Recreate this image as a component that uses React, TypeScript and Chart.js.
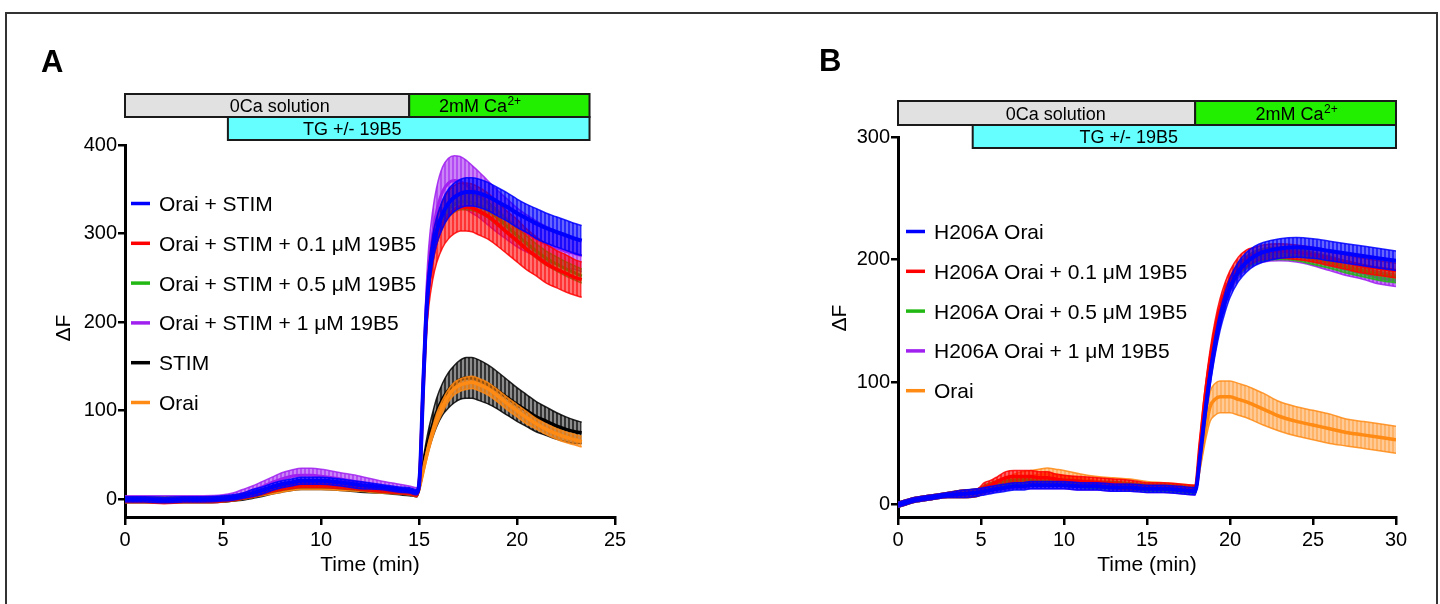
import React, { useEffect, useRef } from 'react';
import { Chart, registerables } from 'chart.js';

Chart.register(...registerables);

const FONT = "'Liberation Sans', Arial, Helvetica, sans-serif";

const BLUE = '#0000ff';
const RED = '#ff0000';
const GREEN = '#22b814';
const PURPLE = '#a020f0';
const BLACK = '#000000';
const ORANGE = '#ff8a14';

// ---------------- Panel A data ----------------
const TIME_A = [0, 1, 2, 3, 4, 5, 5.5, 6, 6.5, 7, 7.5, 8, 8.5, 9, 9.5, 10, 11, 12, 13, 14, 14.5, 14.9,
  15.05, 15.2, 15.35, 15.5, 15.7, 15.9, 16.2, 16.5, 16.8, 17.1, 17.4, 17.7, 18,
  18.5, 19, 19.5, 20, 20.5, 21, 21.5, 22, 22.5, 23, 23.3];
const X_TICKS_A = [0, 5, 10, 15, 20, 25];
const Y_TICKS_A = [0, 100, 200, 300, 400];
const LABELS_A = ['Orai + STIM', 'Orai + STIM + 0.1 μM 19B5', 'Orai + STIM + 0.5 μM 19B5', 'Orai + STIM + 1 μM 19B5', 'STIM', 'Orai'];

const A_ORAI_STIM = [0, 0, -1, 0, 0, 1, 2, 4, 7, 10, 14, 17, 19, 21, 21, 21, 19, 16, 14, 11, 10, 8,
  30, 120, 200, 248, 283, 303, 322, 334, 341, 345, 347, 347, 346,
  342, 336, 330, 323, 317, 311, 306, 302, 298, 294, 292];
const A_ORAI_STIM_SEM = [3, 3, 3, 3, 3, 3, 3, 3, 4, 4, 4, 4, 4, 4, 4, 4, 4, 4, 3, 3, 3, 3,
  6, 10, 12, 14, 15, 15, 16, 16, 16, 16, 16, 16, 16,
  16, 16, 16, 16, 16, 17, 17, 17, 17, 17, 17];

const A_01 = [-1, -1, -2, -1, -1, 0, 1, 3, 5, 8, 11, 13, 15, 16, 16, 16, 15, 13, 11, 9, 8, 6,
  30, 118, 195, 240, 272, 292, 310, 321, 327, 330, 330, 329, 326,
  320, 311, 301, 292, 282, 274, 266, 260, 255, 250, 248];
const A_01_SEM = [3, 3, 3, 3, 3, 3, 3, 3, 3, 3, 3, 3, 3, 3, 3, 3, 3, 3, 3, 3, 3, 3,
  6, 12, 18, 22, 24, 25, 26, 27, 27, 27, 27, 27, 27,
  26, 25, 24, 24, 23, 22, 22, 21, 21, 20, 20];

const A_05 = [-1, -1, -1, -1, -1, 0, 1, 3, 5, 8, 11, 13, 15, 16, 16, 16, 15, 13, 11, 9, 8, 6,
  30, 118, 195, 242, 276, 297, 315, 327, 333, 336, 336, 335, 333,
  327, 318, 308, 298, 289, 280, 272, 266, 260, 255, 252];
const A_05_SEM = [3, 3, 3, 3, 3, 3, 3, 3, 3, 3, 3, 3, 3, 3, 3, 3, 3, 3, 3, 3, 3, 3,
  5, 8, 9, 9, 9, 9, 9, 9, 9, 9, 9, 9, 9,
  9, 9, 8, 8, 8, 8, 8, 8, 8, 8, 8];

const A_1 = [0, 0, 0, 0, 0, 1, 3, 6, 10, 14, 19, 23, 26, 27, 27, 26, 23, 19, 15, 12, 10, 8,
  32, 125, 210, 262, 300, 325, 347, 357, 360, 359, 355, 350, 345,
  335, 325, 316, 307, 300, 294, 288, 284, 280, 277, 275];
const A_1_SEM = [4, 4, 4, 4, 4, 4, 4, 5, 5, 6, 6, 7, 7, 8, 8, 8, 7, 7, 6, 5, 5, 5,
  6, 14, 20, 24, 26, 27, 28, 28, 28, 28, 28, 27, 26,
  25, 24, 23, 22, 21, 20, 20, 19, 19, 18, 18];

const A_STIM = [0, 0, 0, 0, 0, 0, 1, 2, 4, 6, 9, 11, 13, 14, 14, 14, 13, 11, 10, 8, 7, 6,
  18, 36, 53, 68, 84, 98, 113, 123, 130, 135, 137, 137, 135,
  130, 123, 115, 107, 100, 93, 88, 83, 79, 76, 75];
const A_STIM_SEM = [3, 3, 3, 3, 3, 3, 3, 3, 3, 3, 3, 3, 3, 3, 3, 3, 3, 3, 3, 3, 3, 3,
  4, 7, 10, 12, 14, 16, 18, 20, 21, 22, 23, 23, 23,
  22, 21, 20, 19, 18, 17, 16, 15, 14, 13, 12];

const A_ORAI = [0, 0, 0, 0, 0, 0, 1, 2, 4, 6, 8, 10, 12, 13, 13, 13, 12, 11, 9, 8, 7, 6,
  16, 31, 46, 60, 76, 90, 105, 117, 125, 129, 131, 132, 130,
  125, 117, 108, 100, 92, 85, 79, 74, 70, 67, 65];
const A_ORAI_SEM = [2, 2, 2, 2, 2, 2, 2, 2, 2, 2, 2, 2, 2, 2, 2, 2, 2, 2, 2, 2, 2, 2,
  3, 4, 5, 6, 6, 7, 7, 7, 7, 7, 7, 7, 7,
  7, 7, 7, 7, 7, 6, 6, 6, 6, 6, 6];

// ---------------- Panel B data ----------------
const TIME_B = [0, 0.5, 1, 2, 3, 4, 4.8, 5.2, 5.6, 6, 6.5, 7, 7.5, 8, 8.5, 9, 9.5, 10, 11, 12, 13, 14, 15, 16, 17,
  17.9, 18.2, 18.5, 18.8, 19.1, 19.4, 19.7, 20, 20.5, 21, 21.5, 22, 23, 24, 25, 26, 27, 28, 29, 30];
const X_TICKS_B = [0, 5, 10, 15, 20, 25, 30];
const Y_TICKS_B = [0, 100, 200, 300];
const LABELS_B = ['H206A Orai', 'H206A Orai + 0.1 μM 19B5', 'H206A Orai + 0.5 μM 19B5', 'H206A Orai + 1 μM 19B5', 'Orai'];

const B_H206A = [0, 2, 4, 6, 8, 9, 10, 11, 12, 13, 14, 15, 15, 16, 16, 16, 16, 16, 15, 15, 14, 14, 13, 13, 12,
  11, 40, 75, 105, 130, 150, 165, 177, 190, 198, 203, 206, 209, 210, 209, 207, 205, 203, 201, 199];
const B_H206A_SEM = [2, 2, 2, 2, 2, 3, 3, 3, 3, 3, 3, 3, 3, 3, 3, 3, 3, 3, 3, 3, 3, 3, 3, 3, 3,
  3, 5, 7, 8, 8, 8, 8, 8, 8, 8, 8, 8, 8, 8, 8, 8, 8, 8, 8, 8];

const B_01 = [0, 2, 4, 6, 8, 9, 10, 14, 16, 19, 22, 23, 23, 23, 22, 22, 21, 20, 19, 18, 17, 16, 15, 15, 14,
  13, 50, 88, 118, 142, 160, 174, 184, 195, 201, 204, 206, 207, 206, 204, 201, 198, 195, 193, 191];
const B_01_SEM = [2, 2, 2, 2, 2, 3, 3, 4, 4, 4, 5, 5, 5, 5, 5, 5, 4, 4, 4, 4, 4, 4, 3, 3, 3,
  3, 5, 7, 8, 8, 8, 7, 7, 7, 7, 6, 6, 6, 6, 6, 6, 6, 6, 6, 6];

const B_05 = [0, 2, 4, 6, 8, 9, 10, 13, 15, 17, 19, 20, 20, 20, 19, 19, 18, 18, 17, 16, 16, 15, 14, 14, 13,
  12, 45, 82, 112, 137, 156, 170, 180, 192, 198, 202, 204, 205, 204, 201, 198, 194, 191, 188, 186];
const B_05_SEM = [2, 2, 2, 2, 2, 3, 3, 3, 3, 3, 3, 3, 3, 3, 3, 3, 3, 3, 3, 3, 3, 3, 3, 3, 3,
  3, 4, 5, 5, 5, 5, 5, 5, 5, 5, 5, 5, 5, 5, 5, 5, 5, 5, 5, 5];

const B_1 = [0, 2, 4, 6, 8, 9, 10, 12, 13, 14, 15, 16, 16, 16, 16, 16, 16, 16, 15, 15, 14, 14, 13, 13, 12,
  11, 42, 78, 108, 134, 153, 168, 178, 190, 197, 201, 203, 204, 203, 200, 196, 192, 189, 185, 183];
const B_1_SEM = [2, 2, 2, 2, 2, 3, 3, 3, 3, 3, 3, 3, 3, 3, 3, 3, 3, 3, 3, 3, 3, 3, 3, 3, 3,
  3, 4, 5, 5, 5, 5, 5, 5, 5, 5, 5, 5, 5, 5, 5, 5, 5, 5, 5, 5];

const B_ORAI = [0, 2, 4, 6, 8, 9, 10, 12, 14, 16, 18, 20, 22, 23, 24, 25, 24, 23, 21, 19, 18, 17, 16, 15, 14,
  13, 35, 60, 80, 86, 88, 88, 88, 86, 84, 81, 78, 72, 68, 65, 62, 59, 57, 55, 53];
const B_ORAI_SEM = [2, 2, 2, 2, 2, 3, 3, 3, 4, 4, 4, 5, 5, 5, 5, 5, 5, 5, 4, 4, 4, 4, 3, 3, 3,
  3, 6, 9, 12, 13, 13, 13, 13, 13, 13, 13, 13, 12, 12, 12, 12, 11, 11, 11, 11];

// ---------------- Protocol bars ----------------
const PROTOCOL_LABELS = ['0Ca solution', '2mM Ca', 'TG +/- 19B5'];
const PROTOCOL_COLORS = ['#e1e1e1', '#22ee00', '#66ffff'];
const PROTOCOL_A_START = [0, 14.5, 5.25];
const PROTOCOL_A_END = [14.5, 23.7, 23.7];
const PROTOCOL_A_TEXT_AT = [7.9, 18.1, 11.6];
const PROTOCOL_B_START = [0, 17.9, 4.5];
const PROTOCOL_B_END = [17.9, 30, 30];
const PROTOCOL_B_TEXT_AT = [9.5, 24.0, 13.9];

type Series = { label: string; color: string; mean: number[]; sem: number[]; rank: number; width: number; alphas: [number, number] };

function rgba(hex: string, a: number) {
  const h = hex.replace('#', '');
  const r = parseInt(h.slice(0, 2), 16), g = parseInt(h.slice(2, 4), 16), b = parseInt(h.slice(4, 6), 16);
  return `rgba(${r},${g},${b},${a})`;
}

function makePattern(color: string, a1: number, a2: number) {
  const c = document.createElement('canvas');
  c.width = 4; c.height = 4;
  const g = c.getContext('2d')!;
  g.fillStyle = rgba(color, a1); g.fillRect(0, 0, 2, 4);
  g.fillStyle = rgba(color, a2); g.fillRect(2, 0, 2, 4);
  return g.createPattern(c, 'repeat');
}

function buildDatasets(times: number[], series: Series[]) {
  const ds: any[] = [];
  series.forEach((s) => {
    const common = { pointRadius: 0, pointHoverRadius: 0, cubicInterpolationMode: 'monotone', tension: 0.3 };
    ds.push({ ...common, label: s.label + ' +SEM', data: times.map((t, i) => ({ x: t, y: s.mean[i] + s.sem[i] })),
      borderColor: rgba(s.color, 0.85), borderWidth: 1.5, fill: '+1', backgroundColor: makePattern(s.color, s.alphas[0], s.alphas[1]), order: s.rank * 3 + 1 });
    ds.push({ ...common, label: s.label + ' -SEM', data: times.map((t, i) => ({ x: t, y: s.mean[i] - s.sem[i] })),
      borderColor: rgba(s.color, 0.85), borderWidth: 1.5, fill: false, order: s.rank * 3 + 2 });
    ds.push({ ...common, label: s.label, data: times.map((t, i) => ({ x: t, y: s.mean[i] })),
      borderColor: s.color, borderWidth: s.width, fill: false, order: s.rank * 3 });
  });
  return ds;
}

const SERIES_A: Series[] = [
  { label: LABELS_A[0], color: BLUE, mean: A_ORAI_STIM, sem: A_ORAI_STIM_SEM, rank: 0, width: 4, alphas: [0.85, 0.6] },
  { label: LABELS_A[1], color: RED, mean: A_01, sem: A_01_SEM, rank: 1, width: 3.5, alphas: [0.8, 0.55] },
  { label: LABELS_A[2], color: GREEN, mean: A_05, sem: A_05_SEM, rank: 2, width: 3, alphas: [0.8, 0.5] },
  { label: LABELS_A[3], color: PURPLE, mean: A_1, sem: A_1_SEM, rank: 3, width: 3, alphas: [0.8, 0.55] },
  { label: LABELS_A[4], color: BLACK, mean: A_STIM, sem: A_STIM_SEM, rank: 5, width: 3.5, alphas: [0.8, 0.45] },
  { label: LABELS_A[5], color: ORANGE, mean: A_ORAI, sem: A_ORAI_SEM, rank: 4, width: 3.5, alphas: [0.85, 0.6] },
];

const SERIES_B: Series[] = [
  { label: LABELS_B[0], color: BLUE, mean: B_H206A, sem: B_H206A_SEM, rank: 0, width: 4, alphas: [0.85, 0.6] },
  { label: LABELS_B[1], color: RED, mean: B_01, sem: B_01_SEM, rank: 1, width: 3.5, alphas: [0.85, 0.6] },
  { label: LABELS_B[2], color: GREEN, mean: B_05, sem: B_05_SEM, rank: 2, width: 3, alphas: [0.85, 0.6] },
  { label: LABELS_B[3], color: PURPLE, mean: B_1, sem: B_1_SEM, rank: 3, width: 3, alphas: [0.85, 0.6] },
  { label: LABELS_B[4], color: ORANGE, mean: B_ORAI, sem: B_ORAI_SEM, rank: 4, width: 3.5, alphas: [0.65, 0.45] },
];

type PanelSpec = {
  times: number[]; series: Series[]; xMax: number; xTicks: number[]; yMin: number; yMax: number; yTicks: number[];
  pad: { left: number; right: number; top: number };
  protoStart: number[]; protoEnd: number[]; protoText: number[]; rows: number[];
  letter: string; letterPos: [number, number]; yTitlePos: [number, number];
  legend: { x0: number; x1: number; tx: number; y0: number; dy: number };
};

function decorPlugin(spec: PanelSpec) {
  return {
    id: 'decor',
    afterDraw(chart: any) {
      const ctx = chart.ctx as CanvasRenderingContext2D;
      const xs = chart.scales.x;
      ctx.save();
      // protocol bars
      for (let i = 0; i < 3; i++) {
        const x0 = xs.getPixelForValue(spec.protoStart[i]);
        const x1 = xs.getPixelForValue(spec.protoEnd[i]);
        const y0 = i < 2 ? spec.rows[0] : spec.rows[1];
        const y1 = i < 2 ? spec.rows[1] : spec.rows[2];
        ctx.fillStyle = PROTOCOL_COLORS[i];
        ctx.fillRect(x0, y0, x1 - x0, y1 - y0);
        ctx.strokeStyle = '#1a1a1a';
        ctx.lineWidth = 2;
        ctx.strokeRect(x0, y0, x1 - x0, y1 - y0);
      }
      for (let i = 0; i < 3; i++) {
        const y0 = i < 2 ? spec.rows[0] : spec.rows[1];
        const y1 = i < 2 ? spec.rows[1] : spec.rows[2];
        const cx = xs.getPixelForValue(spec.protoText[i]);
        const by = (y0 + y1) / 2 + 6.5;
        ctx.fillStyle = '#000';
        ctx.textBaseline = 'alphabetic';
        ctx.font = `18px ${FONT}`;
        const main = PROTOCOL_LABELS[i];
        if (i === 1) {
          const w1 = ctx.measureText(main).width;
          ctx.font = `12px ${FONT}`;
          const w2 = ctx.measureText('2+').width;
          const start = cx - (w1 + w2) / 2;
          ctx.font = `18px ${FONT}`;
          ctx.textAlign = 'left';
          ctx.fillText(main, start, by);
          ctx.font = `12px ${FONT}`;
          ctx.fillText('2+', start + w1 + 0.5, by - 7);
        } else {
          ctx.textAlign = 'center';
          ctx.fillText(main, cx, by);
        }
      }
      // panel letter
      ctx.font = `bold 31px ${FONT}`;
      ctx.textAlign = 'left';
      ctx.fillStyle = '#000';
      ctx.fillText(spec.letter, spec.letterPos[0], spec.letterPos[1]);
      // y title
      ctx.save();
      ctx.translate(spec.yTitlePos[0], spec.yTitlePos[1]);
      ctx.rotate(-Math.PI / 2);
      ctx.font = `21px ${FONT}`;
      ctx.textAlign = 'center';
      ctx.textBaseline = 'middle';
      ctx.fillText('ΔF', 0, 0);
      ctx.restore();
      // legend
      const L = spec.legend;
      spec.series.forEach((s, i) => {
        const y = L.y0 + i * L.dy;
        ctx.strokeStyle = s.color;
        ctx.lineWidth = 3.5;
        ctx.beginPath();
        ctx.moveTo(L.x0, y);
        ctx.lineTo(L.x1, y);
        ctx.stroke();
        ctx.fillStyle = '#000';
        ctx.font = `21px ${FONT}`;
        ctx.textAlign = 'left';
        ctx.textBaseline = 'alphabetic';
        ctx.fillText(s.label, L.tx, y + 7.5);
      });
      ctx.restore();
    },
  };
}

function buildConfig(spec: PanelSpec): any {
  const tickFont = { family: FONT, size: 20 };
  return {
    type: 'line',
    data: { datasets: buildDatasets(spec.times, spec.series) },
    options: {
      responsive: false,
      animation: false,
      events: [],
      layout: { padding: { left: spec.pad.left, right: spec.pad.right, top: spec.pad.top, bottom: 0 } },
      plugins: { legend: { display: false }, tooltip: { enabled: false } },
      scales: {
        x: {
          type: 'linear', min: 0, max: spec.xMax,
          afterBuildTicks: (s: any) => { s.ticks = spec.xTicks.map((v) => ({ value: v })); },
          afterFit: (s: any) => { s.height = 87; },
          ticks: { font: tickFont, color: '#000', padding: 3, maxRotation: 0, autoSkip: false },
          grid: { display: true, drawOnChartArea: false, drawTicks: true, tickLength: 8, color: '#000', lineWidth: 2.5 },
          border: { display: true, color: '#000', width: 3 },
          title: { display: true, text: 'Time (min)', color: '#000', font: { family: FONT, size: 21 }, padding: { top: 0, bottom: 26 } },
        },
        y: {
          type: 'linear', min: spec.yMin, max: spec.yMax,
          afterBuildTicks: (s: any) => { s.ticks = spec.yTicks.map((v) => ({ value: v })); },
          afterFit: (s: any) => { s.width = 60; },
          ticks: { font: tickFont, color: '#000', padding: 1, autoSkip: false },
          grid: { display: true, drawOnChartArea: false, drawTicks: true, tickLength: 7, color: '#000', lineWidth: 2.5 },
          border: { display: true, color: '#000', width: 3 },
        },
      },
    },
    plugins: [decorPlugin(spec)],
  };
}

const SPEC_A: PanelSpec = {
  times: TIME_A, series: SERIES_A, xMax: 25, xTicks: X_TICKS_A, yMin: -20, yMax: 400, yTicks: Y_TICKS_A,
  pad: { left: 65, right: 105, top: 145 },
  protoStart: PROTOCOL_A_START, protoEnd: PROTOCOL_A_END, protoText: PROTOCOL_A_TEXT_AT, rows: [94, 117, 140],
  letter: 'A', letterPos: [41, 72], yTitlePos: [64, 328],
  legend: { x0: 131, x1: 150, tx: 159, y0: 203.5, dy: 39.8 },
};

const SPEC_B: PanelSpec = {
  times: TIME_B, series: SERIES_B, xMax: 30, xTicks: X_TICKS_B, yMin: -10, yMax: 300, yTicks: Y_TICKS_B,
  pad: { left: 118, right: 44, top: 137 },
  protoStart: PROTOCOL_B_START, protoEnd: PROTOCOL_B_END, protoText: PROTOCOL_B_TEXT_AT, rows: [101, 125, 148],
  letter: 'B', letterPos: [99, 71], yTitlePos: [120, 318],
  legend: { x0: 186, x1: 205, tx: 214, y0: 231.5, dy: 39.8 },
};

function Panel({ spec, left }: { spec: PanelSpec; left: number }) {
  const ref = useRef<HTMLCanvasElement>(null);
  useEffect(() => {
    const chart = new Chart(ref.current!, buildConfig(spec));
    return () => chart.destroy();
  }, [spec]);
  return (
    <canvas ref={ref} width={720} height={604}
      style={{ position: 'absolute', left, top: 0, width: 720, height: 604 }} />
  );
}

export default function App() {
  return (
    <div style={{ position: 'absolute', left: 0, top: 0, width: 1440, height: 604, overflow: 'hidden', background: '#fff' }}>
      <div style={{ position: 'absolute', left: 5, top: 12, width: 1433, height: 640, border: '2px solid #333', boxSizing: 'border-box' }} />
      <Panel spec={SPEC_A} left={0} />
      <Panel spec={SPEC_B} left={720} />
    </div>
  );
}
